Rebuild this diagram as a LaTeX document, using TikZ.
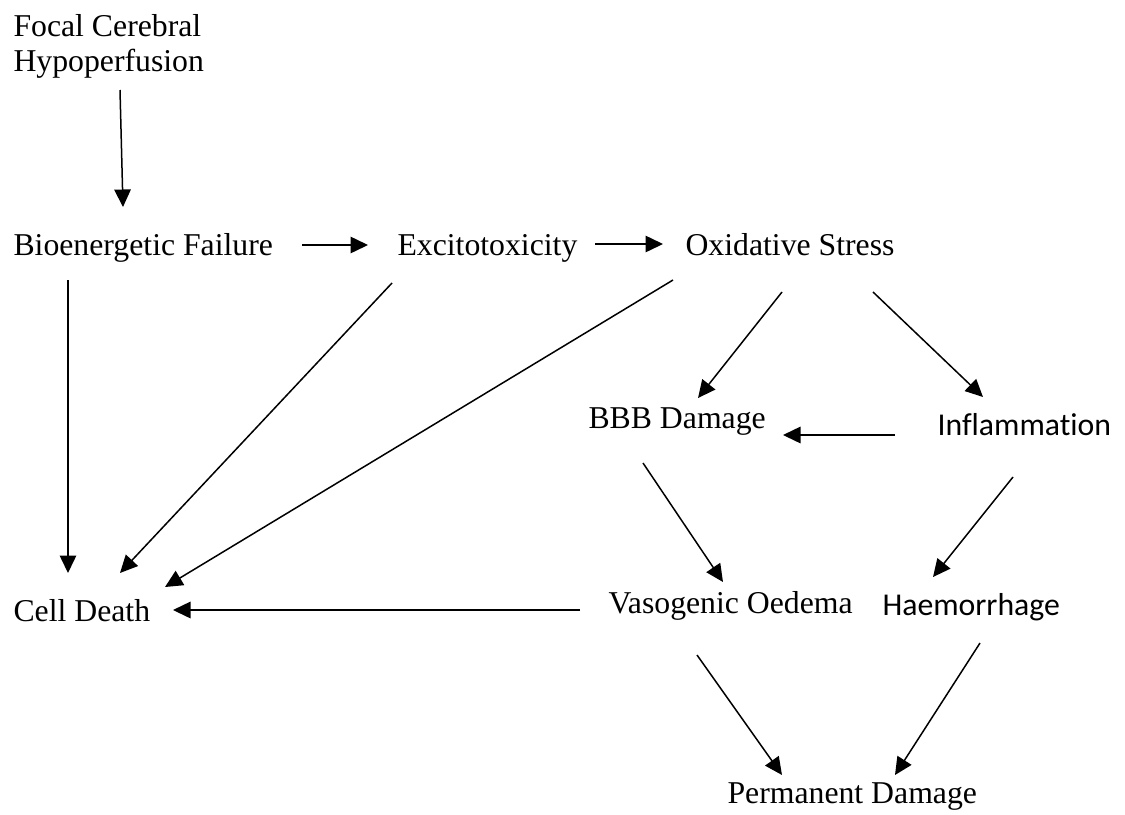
\documentclass[tikz,border=0pt]{standalone}
\usepackage{fontspec}
\setmainfont{Liberation Serif}
\newfontfamily\calibri[Ligatures={NoCommon}]{Carlito}
\usetikzlibrary{arrows.meta, positioning, calc}

\begin{document}
\begin{tikzpicture}[
  x=0.4pt, y=-0.4pt,
  >={Triangle[length=7pt, width=6.6pt]},
  txt/.style={font=\fontsize{12.7}{14}\selectfont, inner sep=0pt, anchor=base west, align=left},
  sans/.style={font=\calibri\fontsize{12.7}{14}\selectfont, inner sep=0pt, anchor=base west},
  arr/.style={->, line width=0.6pt, black},
]

% Canvas
\useasboundingbox (0,0) rectangle (1125,814);

% === Nodes ===
\node[txt, anchor=north west] (focal) at (13,14) {Focal Cerebral\\Hypoperfusion};

\node[txt] (bio) at (13,255) {Bioenergetic Failure};
\node[txt] (exc) at (397,255) {Excitotoxicity};
\node[txt] (oxi) at (685,255) {Oxidative Stress};

\node[txt] (bbb) at (588,428) {BBB Damage};
\node[sans] (infl) at (937,435) {Inflammation};

\node[txt] (cell) at (13,621) {Cell Death};
\node[txt] (vaso) at (608,613) {Vasogenic Oedema};
\node[sans] (haem) at (882,615) {Haemorrhage};

\node[txt] (perm) at (727,803) {Permanent Damage};

% === Connectors ===
\draw[arr] ([shift={(107,76)}]focal.north west) -- ([shift={(110,-48)}]bio.base west);

\draw[arr] ([shift={(289,-10)}]bio.base west) -- ([shift={(-29,-10)}]exc.base west);
\draw[arr] ([shift={(198,-11)}]exc.base west) -- ([shift={(-22,-11)}]oxi.base west);

% towards cell death
\draw[arr] ([shift={(55,25)}]bio.base west) -- ([shift={(55,-48)}]cell.base west);
\draw[arr] ([shift={(-5,28)}]exc.base west) -- ([shift={(107,-48)}]cell.base west);
\draw[arr] ([shift={(-12,25)}]oxi.base west) -- ([shift={(152,-34)}]cell.base west);

% oxidative stress branches
\draw[arr] ([shift={(97,37)}]oxi.base west) -- ([shift={(110,-30)}]bbb.base west);
\draw[arr] ([shift={(188,37)}]oxi.base west) -- ([shift={(46,-38)}]infl.base west);
\draw[arr] ([shift={(-42,0)}]infl.base west) -- ([shift={(195,7)}]bbb.base west);

\draw[arr] ([shift={(55,35)}]bbb.base west) -- ([shift={(115,-31)}]vaso.base west);
\draw[arr] ([shift={(76,42)}]infl.base west) -- ([shift={(51,-38)}]haem.base west);
\draw[arr] ([shift={(-28,-3)}]vaso.base west) -- ([shift={(160,-11)}]cell.base west);

% permanent damage
\draw[arr] ([shift={(89,42)}]vaso.base west) -- ([shift={(55,-28)}]perm.base west);
\draw[arr] ([shift={(98,28)}]haem.base west) -- ([shift={(168,-28)}]perm.base west);

\end{tikzpicture}
\end{document}
